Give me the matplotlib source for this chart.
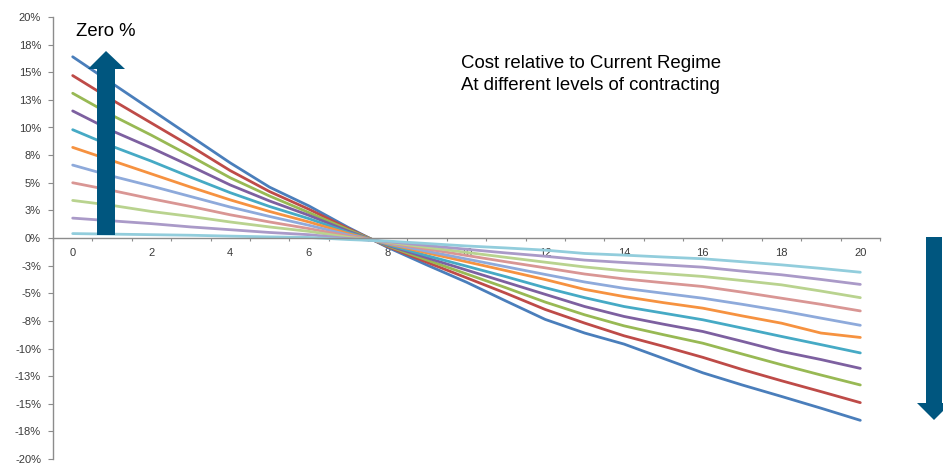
import matplotlib.pyplot as plt
from matplotlib.patches import Polygon

plt.rcParams['font.family'] = ['Liberation Sans', 'DejaVu Sans']

# contracting level on the x axis (0..20)
x = list(range(21))

# cost relative to current regime, in %
blue = [16.4, 14.0, 11.6, 9.2, 6.8, 4.6, 2.9, 0.95, -0.85, -2.45, -4.0, -5.7, -7.37, -8.6, -9.6, -10.9, -12.2, -13.3, -14.34, -15.4, -16.5]
red = [14.7, 12.5, 10.4, 8.3, 6.1, 4.2, 2.6, 0.85, -0.78, -2.2, -3.6, -5.0, -6.47, -7.7, -8.85, -9.8, -10.8, -11.9, -12.92, -13.9, -14.9]
green = [13.1, 11.1, 9.3, 7.4, 5.45, 3.8, 2.3, 0.75, -0.72, -2.0, -3.25, -4.5, -5.8, -6.95, -7.95, -8.75, -9.52, -10.5, -11.47, -12.4, -13.3]
purple = [11.5, 9.7, 8.15, 6.5, 4.8, 3.35, 2.05, 0.62, -0.66, -1.8, -2.9, -4.0, -5.1, -6.2, -7.1, -7.8, -8.46, -9.35, -10.27, -11.0, -11.8]
teal = [9.8, 8.3, 6.95, 5.5, 4.1, 2.85, 1.75, 0.5, -0.6, -1.6, -2.55, -3.5, -4.5, -5.4, -6.2, -6.8, -7.4, -8.15, -8.91, -9.65, -10.4]
orange = [8.2, 7.0, 5.8, 4.6, 3.45, 2.4, 1.45, 0.4, -0.53, -1.35, -2.15, -2.95, -3.76, -4.65, -5.3, -5.85, -6.35, -7.05, -7.71, -8.6, -9.0]
light_blue = [6.6, 5.6, 4.7, 3.75, 2.8, 1.95, 1.15, 0.28, -0.48, -1.2, -1.9, -2.6, -3.3, -3.98, -4.55, -5.0, -5.45, -6.0, -6.59, -7.25, -7.9]
light_red = [5.0, 4.3, 3.55, 2.85, 2.1, 1.45, 0.85, 0.17, -0.43, -1.0, -1.58, -2.15, -2.7, -3.26, -3.7, -4.05, -4.39, -4.9, -5.45, -6.0, -6.6]
light_green = [3.4, 2.95, 2.4, 1.95, 1.45, 1.0, 0.6, 0.06, -0.38, -0.85, -1.3, -1.75, -2.19, -2.62, -2.97, -3.22, -3.48, -3.85, -4.24, -4.8, -5.4]
light_purple = [1.8, 1.55, 1.3, 1.0, 0.75, 0.5, 0.3, -0.05, -0.33, -0.68, -1.02, -1.35, -1.65, -2.0, -2.22, -2.43, -2.64, -3.0, -3.33, -3.75, -4.2]
light_teal = [0.4, 0.35, 0.3, 0.25, 0.17, 0.1, 0.05, -0.14, -0.28, -0.5, -0.72, -0.9, -1.1, -1.4, -1.55, -1.72, -1.88, -2.15, -2.43, -2.75, -3.1]

series = [blue, red, green, purple, teal, orange,
          light_blue, light_red, light_green, light_purple, light_teal]
colors = ['#4A7EBB', '#BE4B48', '#98B954', '#7D60A0', '#46AAC5', '#F69240',
          '#8EAADB', '#D99694', '#B9D38F', '#AA9AC8', '#92CDDC']

y_ticks = [-20, -17.5, -15, -12.5, -10, -7.5, -5, -2.5, 0, 2.5, 5, 7.5, 10, 12.5, 15, 17.5, 20]
y_tick_labels = ['-20%', '-18%', '-15%', '-13%', '-10%', '-8%', '-5%', '-3%', '0%',
                 '3%', '5%', '8%', '10%', '13%', '15%', '18%', '20%']
x_label_pos = [0, 2, 4, 6, 8, 10, 12, 14, 16, 18, 20]
x_tick_labels = ['0', '2', '4', '6', '8', '10', '12', '14', '16', '18', '20']

W, H = 943, 465
fig = plt.figure(figsize=(W / 100, H / 100), dpi=100)
ax = fig.add_axes([53 / W, 6 / H, (880 - 53) / W, 442 / H])

for vals, col in zip(series, colors):
    ax.plot(x, vals, color=col, lw=2.0, solid_capstyle='round')

ax.set_xlim(-0.5, 20.5)
ax.set_ylim(-20, 20)

axis_grey = '#8C8C8C'
label_grey = '#3A3A3A'
ax.spines['top'].set_visible(False)
ax.spines['right'].set_visible(False)
ax.spines['bottom'].set_position(('data', 0))
for s in ('left', 'bottom'):
    ax.spines[s].set_color(axis_grey)
    ax.spines[s].set_linewidth(1.0)

ax.set_yticks(y_ticks)
ax.set_yticklabels(y_tick_labels)
ax.tick_params(axis='y', length=3.6, width=0.8, color=axis_grey, pad=5,
               labelsize=8, labelcolor=label_grey)

# category boundaries carry the tick marks, labels sit on every other category
ax.set_xticks([k - 0.5 for k in range(22)])
ax.set_xticklabels([''] * 22)
ax.set_xticks(x_label_pos, minor=True)
ax.set_xticklabels(x_tick_labels, minor=True)
ax.tick_params(axis='x', which='major', length=2.5, width=0.8, color=axis_grey)
ax.tick_params(axis='x', which='minor', length=0, pad=7,
               labelsize=8, labelcolor=label_grey)


def px(points):
    return [(px_x / W, 1 - px_y / H) for px_x, px_y in points]


arrow_col = '#00567F'
up_arrow = [(97, 235), (115, 235), (115, 69), (125, 69), (106, 51),
            (88, 69), (97, 69)]
down_arrow = [(926, 237), (942, 237), (942, 403), (951, 403), (934, 420),
              (917, 403), (926, 403)]
for shape in (up_arrow, down_arrow):
    fig.add_artist(Polygon(px(shape), closed=True, transform=fig.transFigure,
                           facecolor=arrow_col, edgecolor='none', zorder=5))

fig.text(76 / W, 1 - 36 / H, 'Zero %', fontsize=13.3, color='black', va='baseline')
fig.text(461 / W, 1 - 68 / H, 'Cost relative to Current Regime',
         fontsize=13.4, color='black', va='baseline')
fig.text(461 / W, 1 - 90 / H, 'At different levels of contracting',
         fontsize=13.4, color='black', va='baseline')

fig.savefig('out.png', dpi=100)
